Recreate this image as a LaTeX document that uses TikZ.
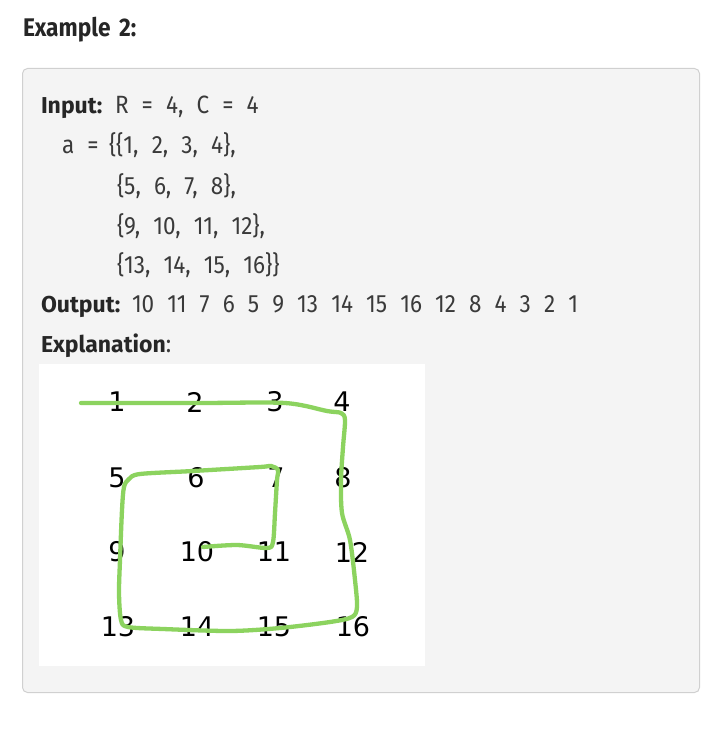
\documentclass[tikz,border=0pt]{standalone}
\usepackage{fontspec}
\setmainfont{Fira Sans}[FakeStretch=0.9, WordSpace=2.2, BoldFeatures={FakeStretch=1, WordSpace=1.6}]
\newfontfamily\numfont{DejaVu Sans}
\definecolor{boxbg}{HTML}{F4F4F4}
\definecolor{boxline}{HTML}{D0D0D0}
\definecolor{txtbold}{HTML}{262626}
\definecolor{txtreg}{HTML}{3A3A3A}
\definecolor{spiral}{HTML}{8CD35F}
\tikzset{
  txt/.style={inner sep=0pt, outer sep=0pt, anchor=base west, text=txtreg, font=\fontsize{25}{29}\selectfont},
  hd/.style={txt, text=txtbold, font=\fontsize{23}{27}\selectfont\bfseries},
  num/.style={inner sep=0pt, outer sep=0pt, text=black, font=\numfont\fontsize{27}{30}\selectfont},
}
\begin{document}
\begin{tikzpicture}[x=1pt,y=-1pt]
\useasboundingbox (0,0) rectangle (722,738);
\fill[white] (0,0) rectangle (722,738);
% heading
\node[hd, font=\fontsize{25.5}{29}\selectfont\bfseries] (title) at (23,37) {\scalebox{0.89}[1]{Example 2:}};
% example box
\draw[boxline, fill=boxbg, line width=1pt, rounded corners=5pt] (22.5,68.5) rectangle (699.5,692.5);
% text lines
\node[hd] (inlab) at (41,114) {Input:};
\node[txt] (inval) at (115,114) {R = 4, C = 4};
\node[txt] (avar) at (62,154) {a =};
\node[txt] (row1) at (109,154) {\{\{1, 2, 3, 4\},};
\node[txt] (row2) at (117,194) {\{5, 6, 7, 8\},};
\node[txt] (row3) at (117,234) {\{9, 10, 11, 12\},};
\node[txt] (row4) at (117,273) {\{13, 14, 15, 16\}\}};
\node[hd] (outlab) at (41,312) {Output:};
\node[txt] (outval) at (132,312) {10 11 7 6 5 9 13 14 15 16 12 8 4 3 2 1};
\node[hd] (explab) at (41,352) {Explanation};
\node[txt, anchor=base west] (expcolon) at (explab.base east) {:};
% picture
\fill[white] (39,364) rectangle (425,666);
\node[num] (n1) at (117,402) {1};
\node[num] (n2) at (195,402) {2};
\node[num] (n3) at (275,402) {3};
\node[num] (n4) at (342,402) {4};
\node[num] (n5) at (117,478) {5};
\node[num] (n6) at (196,478) {6};
\node[num] (n7) at (276,478) {7};
\node[num] (n8) at (343,478) {8};
\node[num] (n9) at (117,552) {9};
\node[num] (n10) at (197,552) {10};
\node[num] (n11) at (274,552) {11};
\node[num] (n12) at (352,552) {12};
\node[num] (n13) at (118,627) {13};
\node[num] (n14) at (197,627) {14};
\node[num] (n15) at (274,627) {15};
\node[num] (n16) at (353,627) {16};
% spiral stroke
\draw[spiral, line width=4.3pt, line cap=round, line join=round]
  plot[smooth, tension=0.5] coordinates {
  (81,403) (200,403) (285,403) (327,411) (341,413) (345,420) (343,447) (341,480)
  (342,513) (350,540) (355,580) (357,607) (352,617) (330,622) (280,628) (230,631)
  (163,629) (128,627) (121,620) (119,593) (120,560) (122,510) (124,487) (129,479)
  (140,474) (193,471) (260,467) (271,466) (278,470) (277,480) (275,513) (273,542)
  (267,548) (237,545) (203,547)};
\end{tikzpicture}
\end{document}
